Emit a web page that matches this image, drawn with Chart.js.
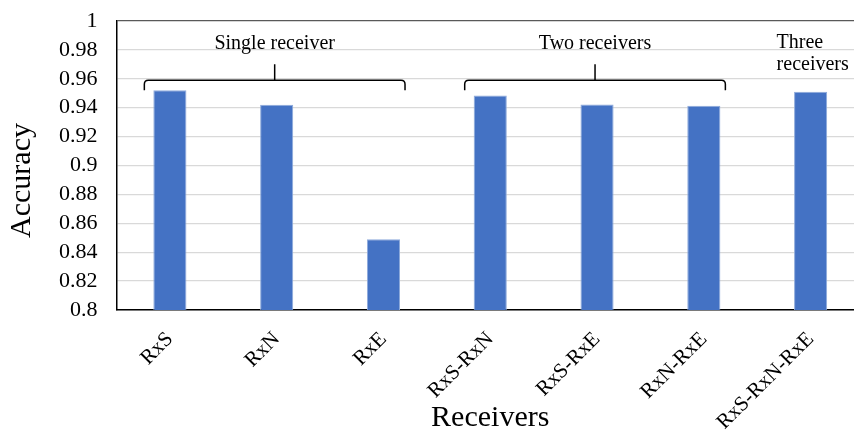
<!DOCTYPE html>
<html>
<head>
<meta charset="utf-8">
<script src="https://cdn.jsdelivr.net/npm/chart.js@4"></script>
<style>
  html, body { margin: 0; padding: 0; background: #fff; overflow: hidden; }
  #wrap { width: 870px; height: 432px; }
</style>
</head>
<body>
<div id="wrap"><canvas id="accChart" width="870" height="432"></canvas></div>
<script>
// receiver combinations and their accuracy
const receivers = ['RxS', 'RxN', 'RxE', 'RxS-RxN', 'RxS-RxE', 'RxN-RxE', 'RxS-RxN-RxE'];
const accuracy = [0.952, 0.942, 0.849, 0.9485, 0.9423, 0.9414, 0.951];
const yTickLabels = ['0.8', '0.82', '0.84', '0.86', '0.88', '0.9', '0.92', '0.94', '0.96', '0.98', '1'];

// groups marked with a brace above the bars
const groupLabels = [['Single receiver'], ['Two receivers'], ['Three', 'receivers']];
const groupFrom = [0, 3, 6];
const groupTo = [2, 5, 6];

const serif = "'Liberation Serif', 'Times New Roman', serif";
Chart.defaults.color = '#000';
Chart.defaults.font.family = serif;

const bracePlugin = {
    id: 'braces',
    afterDatasetsDraw(chart) {
        const ctx = chart.ctx;
        const bars = chart.getDatasetMeta(0).data;
        const y = chart.scales.y;
        const lineY = y.getPixelForValue(0.959);
        const textY = y.getPixelForValue(0.9806);
        ctx.save();
        ctx.strokeStyle = '#000';
        ctx.fillStyle = '#000';
        ctx.lineWidth = 1.5;
        ctx.font = '20px ' + serif;
        groupLabels.forEach((lines, g) => {
            const a = bars[groupFrom[g]];
            const b = bars[groupTo[g]];
            if (lines.length > 1) {
                // no brace, just two left-aligned lines
                ctx.textAlign = 'left';
                ctx.textBaseline = 'alphabetic';
                lines.forEach((t, k) => ctx.fillText(t, b.x - 34, textY - 1 + k * 22));
                return;
            }
            const left = a.x - a.width / 2 - 9;
            const right = b.x + b.width / 2 + 5;
            const mid = (left + right) / 2;
            const r = 4;
            ctx.beginPath();
            ctx.moveTo(left, lineY + 10);
            ctx.lineTo(left, lineY + r);
            ctx.quadraticCurveTo(left, lineY, left + r, lineY);
            ctx.lineTo(right - r, lineY);
            ctx.quadraticCurveTo(right, lineY, right, lineY + r);
            ctx.lineTo(right, lineY + 10);
            ctx.moveTo(mid, lineY);
            ctx.lineTo(mid, lineY - 16);
            ctx.stroke();
            ctx.textAlign = 'center';
            ctx.textBaseline = 'alphabetic';
            ctx.fillText(lines[0], mid, textY);
        });
        ctx.restore();
    }
};

const chart = new Chart(document.getElementById('accChart').getContext('2d'), {
    type: 'bar',
    data: {
        labels: receivers,
        datasets: [{
            label: 'Accuracy',
            data: accuracy,
            backgroundColor: '#4472C4',
            borderColor: '#8eaadb',
            borderWidth: 1,
            barPercentage: 0.31,
            categoryPercentage: 1
        }]
    },
    options: {
        responsive: false,
        animation: false,
        layout: { padding: { top: 21, right: 6, left: 0, bottom: 0 } },
        plugins: {
            legend: { display: false },
            tooltip: { enabled: false }
        },
        scales: {
            x: {
                grid: { display: false },
                border: { color: '#000', width: 1.5 },
                ticks: {
                    font: { size: 21 },
                    maxRotation: 45,
                    minRotation: 45,
                    padding: 9
                },
                title: {
                    display: true,
                    text: 'Receivers',
                    font: { size: 30, lineHeight: 0.9 },
                    padding: 0
                },
                afterFit(scale) { scale.height = 122; }
            },
            y: {
                min: 0.8,
                max: 1,
                grid: {
                    drawTicks: false,
                    color: c => (c.tick && c.tick.value > 0.999 ? '#595959' : '#d9d9d9'),
                    lineWidth: 1.3
                },
                border: { color: '#000', width: 1.5 },
                ticks: {
                    stepSize: 0.02,
                    autoSkip: false,
                    padding: 19,
                    font: { size: 22 },
                    callback: (v, i) => yTickLabels[i]
                },
                title: {
                    display: true,
                    text: 'Accuracy    ',
                    font: { size: 30, lineHeight: 1.2 },
                    padding: { top: 4, bottom: 0 }
                },
                afterFit(scale) {
                    scale.width = 116.5;
                    scale.paddingTop = 0;
                    scale.paddingBottom = 0;
                }
            }
        }
    },
    plugins: [bracePlugin]
});
</script>
</body>
</html>
